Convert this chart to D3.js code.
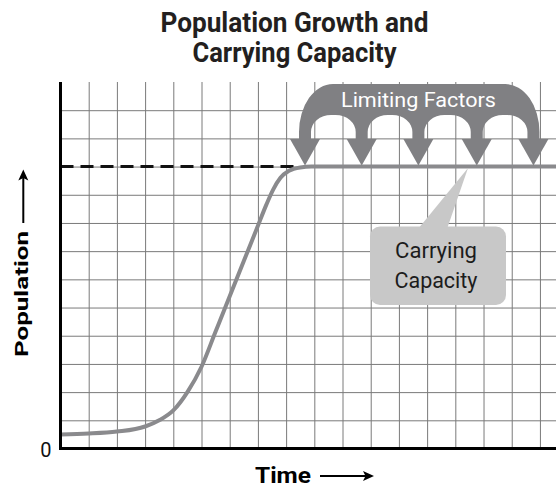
<!DOCTYPE html>
<html>
<head>
<meta charset="utf-8">
<script src="https://cdn.jsdelivr.net/npm/d3@7"></script>
<style>
  html, body { margin: 0; padding: 0; background: #fff; }
  svg { display: block; font-family: Roboto, "Noto Sans", sans-serif; }
</style>
</head>
<body>
<svg id="chart" width="556" height="487"></svg>
<script>
// Logistic growth curve: time (grid units) vs population (grid units)
const timeSteps  = [0, 1, 2, 3, 3.5, 4, 4.5, 5, 5.5, 6, 6.5, 7, 7.3, 7.55, 7.8, 8.1, 8.5, 8.9, 17.6];
const population = [0.5, 0.53, 0.6, 0.78, 1.0, 1.35, 2.0, 2.9, 4.15, 5.4, 6.65, 7.9, 8.65, 9.2, 9.6, 9.85, 9.97, 10, 10];

// Carrying capacity level and where the dashed guide ends
const carryingCapacity = 10;
const dashedEndTime = 8.4;

// Times at which the limiting-factor arrows press down on the plateau
const limitingTimes = [8.67, 10.68, 12.69, 14.76, 16.77];

// Grid ticks and axis labels
const xGridTicks = d3.range(1, 18);
const yGridTicks = d3.range(1, 13);
const yTickLabels = [0];
const titleLines = ["Population Growth and", "Carrying Capacity"];
const xLabel = "Time";
const yLabel = "Population";
const bannerLabel = "Limiting Factors";
const calloutLines = ["Carrying", "Capacity"];

(function draw() {
  const svg = d3.select("#chart");
  const W = 556;

  const x = d3.scaleLinear().domain([0, 17.57]).range([60.5, 556]);
  const y = d3.scaleLinear().domain([0, 13]).range([448.5, 82]);

  // ---- grid ----
  const gridColor = "#7a7a7a";
  const gx = svg.append("g")
    .attr("transform", `translate(0,${y(0)})`)
    .call(d3.axisBottom(x).tickValues(xGridTicks).tickSize(-(y(0) - y(13))).tickFormat(""));
  gx.select(".domain").remove();
  gx.selectAll("line").attr("stroke", gridColor).attr("stroke-width", 1);

  const gy = svg.append("g")
    .attr("transform", `translate(${x(0)},0)`)
    .call(d3.axisLeft(y).tickValues(yGridTicks).tickSize(-(W - x(0))).tickFormat(""));
  gy.select(".domain").remove();
  gy.selectAll("line").attr("stroke", gridColor).attr("stroke-width", 1);

  // ---- dashed carrying-capacity guide ----
  svg.append("line")
    .attr("x1", x(0)).attr("x2", x(dashedEndTime))
    .attr("y1", y(carryingCapacity)).attr("y2", y(carryingCapacity))
    .attr("stroke", "#111").attr("stroke-width", 3)
    .attr("stroke-dasharray", "13,7");

  // ---- growth curve ----
  const pts = timeSteps.map((t, i) => [t, population[i]]);
  svg.append("path")
    .datum(pts)
    .attr("fill", "none")
    .attr("stroke", "#8a8a8d")
    .attr("stroke-width", 4)
    .attr("d", d3.line().x(d => x(d[0])).y(d => y(d[1])).curve(d3.curveMonotoneX));

  // ---- limiting factors banner with arrows ----
  const bannerColor = "#808083";
  const cs = limitingTimes.map(t => x(t));
  const bTop = 84, armBottom = 139.5, archTop = 115;
  const stemHalf = 6, orx = 34, ory = 48, arx = 20, ary = 17;
  const headHalf = 15, tipY = y(carryingCapacity) - 1;
  const L = cs[0] - stemHalf, R = cs[cs.length - 1] + stemHalf;

  let d = `M${L},${armBottom} L${L},${bTop + ory} A${orx},${ory} 0 0 1 ${L + orx},${bTop} ` +
          `L${R - orx},${bTop} A${orx},${ory} 0 0 1 ${R},${bTop + ory} L${R},${armBottom} Z`;
  for (let k = 0; k < cs.length - 1; k++) {
    const a = cs[k] + stemHalf, b = cs[k + 1] - stemHalf;
    d += ` M${a},${armBottom} L${a},${archTop + ary} A${arx},${ary} 0 0 1 ${a + arx},${archTop} ` +
         `L${b - arx},${archTop} A${arx},${ary} 0 0 1 ${b},${archTop + ary} L${b},${armBottom} Z`;
  }
  svg.append("path").attr("d", d).attr("fill", bannerColor).attr("fill-rule", "evenodd");

  svg.selectAll("path.head")
    .data(cs)
    .join("path")
    .attr("class", "head")
    .attr("fill", bannerColor)
    .attr("d", c => `M${c - headHalf},${armBottom - 0.5} L${c + headHalf},${armBottom - 0.5} L${c},${tipY} Z`);

  svg.append("text")
    .attr("x", 418.5).attr("y", 106.5)
    .attr("text-anchor", "middle")
    .attr("fill", "#fff")
    .attr("font-size", 20.5)
    .attr("textLength", 155).attr("lengthAdjust", "spacingAndGlyphs")
    .text(bannerLabel);

  // ---- carrying capacity callout ----
  const calloutFill = "#c8c8c8";
  svg.append("path")
    .attr("fill", calloutFill)
    .attr("d", `M418,229 L447,229 L${x(14.45)},${y(carryingCapacity) + 1.5} Z`);
  svg.append("rect")
    .attr("x", 370).attr("y", 226.5).attr("width", 136).attr("height", 78.5)
    .attr("rx", 10).attr("fill", calloutFill);
  svg.selectAll("text.callout")
    .data(calloutLines)
    .join("text")
    .attr("class", "callout")
    .attr("x", 436).attr("y", (s, i) => 258.3 + i * 30)
    .attr("text-anchor", "middle")
    .attr("fill", "#1c1c1c")
    .attr("font-size", 22)
    .attr("textLength", (s, i) => i === 0 ? 82 : 83)
    .attr("lengthAdjust", "spacingAndGlyphs")
    .text(s => s);

  // ---- axes ----
  svg.append("line")
    .attr("x1", x(0)).attr("x2", x(0)).attr("y1", y(13)).attr("y2", y(0) + 1.5)
    .attr("stroke", "#000").attr("stroke-width", 3);
  svg.append("line")
    .attr("x1", x(0) - 1.5).attr("x2", W).attr("y1", y(0)).attr("y2", y(0))
    .attr("stroke", "#000").attr("stroke-width", 3);

  const yAxis = svg.append("g")
    .attr("transform", `translate(${x(0)},0)`)
    .call(d3.axisLeft(y).tickValues(yTickLabels).tickSize(0).tickPadding(9).tickFormat(d3.format("d")));
  yAxis.select(".domain").remove();
  yAxis.selectAll("text")
    .attr("font-family", "Roboto, sans-serif")
    .attr("font-size", 20).attr("fill", "#111").attr("dy", "0.42em");

  // ---- title ----
  svg.selectAll("text.title")
    .data(titleLines)
    .join("text")
    .attr("class", "title")
    .attr("x", 294.5).attr("y", (s, i) => 32 + i * 30)
    .attr("text-anchor", "middle")
    .attr("font-weight", "bold")
    .attr("font-size", 27)
    .attr("fill", "#231f20")
    .attr("textLength", (s, i) => i === 0 ? 268 : 204)
    .attr("lengthAdjust", "spacingAndGlyphs")
    .text(s => s);

  // ---- axis titles with arrows ----
  svg.append("text")
    .attr("x", 255).attr("y", 482.5)
    .attr("font-weight", "bold").attr("font-size", 22).attr("fill", "#000")
    .attr("textLength", 56).attr("lengthAdjust", "spacingAndGlyphs")
    .text(xLabel);
  svg.append("line")
    .attr("x1", 320).attr("x2", 366).attr("y1", 476).attr("y2", 476)
    .attr("stroke", "#000").attr("stroke-width", 2);
  svg.append("path").attr("fill", "#000")
    .attr("d", "M374,476 L363,471 L365.5,476 L363,481 Z");

  svg.append("text")
    .attr("transform", "translate(28.3,357) rotate(-90)")
    .attr("font-weight", "bold").attr("font-size", 19).attr("fill", "#000")
    .attr("textLength", 126).attr("lengthAdjust", "spacingAndGlyphs")
    .text(yLabel);
  svg.append("line")
    .attr("x1", 23.3).attr("x2", 23.3).attr("y1", 223).attr("y2", 178)
    .attr("stroke", "#000").attr("stroke-width", 2);
  svg.append("path").attr("fill", "#000")
    .attr("d", "M23.3,169.5 L18.3,180.5 L23.3,178 L28.3,180.5 Z");
})();
</script>
</body>
</html>
